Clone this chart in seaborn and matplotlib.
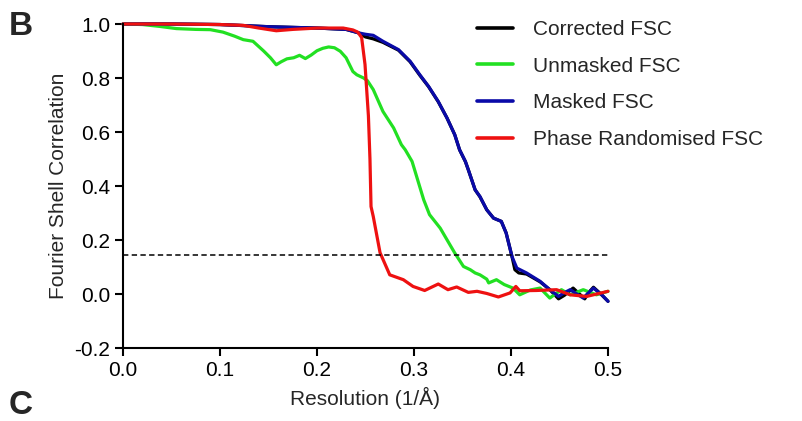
import numpy as np
import pandas as pd
import matplotlib
matplotlib.use("Agg")
import matplotlib.pyplot as plt
import seaborn as sns

# ---------------- data ----------------
corrected_x = [0.0, 0.05, 0.1, 0.15, 0.2, 0.23, 0.243, 0.25, 0.258, 0.268, 0.284, 0.296, 0.306,
               0.315, 0.325, 0.334, 0.342, 0.347, 0.353, 0.356, 0.363, 0.368, 0.375, 0.382,
               0.39, 0.395, 0.401, 0.404, 0.408, 0.416, 0.43, 0.44, 0.449, 0.455, 0.464,
               0.47, 0.476, 0.48, 0.485, 0.4935, 0.5]
corrected_y = [1.0, 1.0, 0.998, 0.99, 0.985, 0.98, 0.967, 0.952, 0.945, 0.932, 0.903, 0.86, 0.81,
               0.768, 0.712, 0.652, 0.59, 0.534, 0.49, 0.46, 0.386, 0.36, 0.312, 0.281,
               0.269, 0.226, 0.139, 0.09, 0.078, 0.074, 0.045, 0.016, -0.018, -0.005, 0.022,
               0.002, -0.018, 0.005, 0.025, -0.003, -0.027]

unmasked_x = [0.0, 0.02, 0.038, 0.055, 0.075, 0.09, 0.103, 0.115, 0.124, 0.134, 0.145, 0.152,
              0.158, 0.163, 0.169, 0.176, 0.182, 0.188, 0.194, 0.2, 0.206, 0.212, 0.218, 0.224,
              0.23, 0.237, 0.241, 0.248, 0.252, 0.258, 0.268, 0.279, 0.287, 0.291, 0.298,
              0.304, 0.31, 0.316, 0.327, 0.334, 0.342, 0.351, 0.358, 0.363, 0.368, 0.375,
              0.377, 0.385, 0.393, 0.402, 0.409, 0.42, 0.43, 0.44, 0.452, 0.461, 0.4745,
              0.488, 0.5]
unmasked_y = [1.0, 0.998, 0.991, 0.983, 0.98, 0.979, 0.97, 0.955, 0.942, 0.936, 0.90, 0.875,
              0.849, 0.86, 0.871, 0.875, 0.884, 0.872, 0.885, 0.901, 0.91, 0.915, 0.912, 0.899,
              0.875, 0.824, 0.812, 0.80, 0.79, 0.757, 0.676, 0.615, 0.553, 0.534, 0.491,
              0.42, 0.349, 0.294, 0.244, 0.201, 0.152, 0.102, 0.09, 0.078, 0.071, 0.055,
              0.041, 0.053, 0.035, 0.022, -0.003, 0.015, 0.022, -0.015, 0.016, -0.003, 0.016,
              -0.003, 0.01]

masked_x = [0.0, 0.05, 0.1, 0.15, 0.2, 0.23, 0.243, 0.25, 0.258, 0.268, 0.284, 0.296, 0.306,
            0.315, 0.325, 0.334, 0.342, 0.347, 0.353, 0.356, 0.363, 0.368, 0.375, 0.382,
            0.39, 0.395, 0.401, 0.406, 0.416, 0.43, 0.44, 0.449, 0.455, 0.461, 0.468,
            0.4745, 0.48, 0.485, 0.4935, 0.5]
masked_y = [1.0, 1.0, 0.998, 0.99, 0.985, 0.98, 0.967, 0.962, 0.958, 0.936, 0.905, 0.862, 0.812,
            0.769, 0.713, 0.652, 0.59, 0.534, 0.491, 0.46, 0.386, 0.361, 0.312, 0.281,
            0.269, 0.226, 0.139, 0.096, 0.078, 0.047, 0.016, -0.009, 0.005, 0.016, 0.0,
            -0.015, 0.005, 0.022, -0.003, -0.027]

phase_x = [0.0, 0.05, 0.1, 0.124, 0.14, 0.158, 0.175, 0.2, 0.227, 0.237, 0.242, 0.246, 0.2495,
           0.253, 0.2546, 0.2557, 0.258, 0.265, 0.275, 0.289, 0.299, 0.311, 0.318, 0.325,
           0.335, 0.344, 0.356, 0.365, 0.375, 0.387, 0.399, 0.405, 0.409, 0.426, 0.447,
           0.461, 0.478, 0.5]
phase_y = [1.0, 1.0, 0.998, 0.995, 0.985, 0.975, 0.98, 0.985, 0.985, 0.978, 0.97, 0.95, 0.85,
           0.66, 0.50, 0.324, 0.287, 0.153, 0.071, 0.053, 0.028, 0.013, 0.025, 0.037,
           0.016, 0.026, 0.006, 0.01, 0.002, -0.011, 0.004, 0.028, 0.012, 0.013, 0.016,
           -0.003, -0.009, 0.01]

series_names = ["Corrected FSC", "Unmasked FSC", "Masked FSC", "Phase Randomised FSC"]
threshold = 0.143
x_ticks = [0.0, 0.1, 0.2, 0.3, 0.4, 0.5]
y_ticks = [-0.2, 0.0, 0.2, 0.4, 0.6, 0.8, 1.0]

frames = []
for name, xs, ys in zip(series_names,
                        [corrected_x, unmasked_x, masked_x, phase_x],
                        [corrected_y, unmasked_y, masked_y, phase_y]):
    frames.append(pd.DataFrame({"Resolution": xs, "FSC": ys, "Curve": name}))
df = pd.concat(frames, ignore_index=True)

palette = {"Corrected FSC": "#000000", "Unmasked FSC": "#22e022",
           "Masked FSC": "#0a0aa8", "Phase Randomised FSC": "#ee1111"}

# ---------------- plot ----------------
sns.set_style("white")
plt.rcParams["font.family"] = ["Liberation Sans", "DejaVu Sans"]
FS = 15

fig = plt.figure(figsize=(8.03, 4.21), dpi=100)
ax = fig.add_axes([123 / 803, 73 / 421, 485 / 803, 324 / 421])

sns.lineplot(data=df, x="Resolution", y="FSC", hue="Curve", hue_order=series_names,
             palette=palette, estimator=None, sort=False, linewidth=2.3, ax=ax,
             legend=True)
for ln in ax.get_lines():
    ln.set_clip_on(False)

ax.axhline(threshold, xmin=0, xmax=1, color="black", linestyle=(0, (3.5, 2.2)),
           linewidth=1.1)

ax.set_xlim(0, 0.5)
ax.set_ylim(-0.2, 1.0)
ax.set_xticks(x_ticks)
ax.set_yticks(y_ticks)
ax.set_xticklabels([f"{v:.1f}" for v in x_ticks])
ax.set_yticklabels([f"{v:.1f}" for v in y_ticks])
ax.tick_params(axis="both", which="major", direction="out", length=6, width=1.5,
               labelsize=FS, color="black", labelcolor="black", pad=3, left=True,
               bottom=True)
for side in ["top", "right"]:
    ax.spines[side].set_visible(False)
for side in ["left", "bottom"]:
    ax.spines[side].set_linewidth(1.5)
    ax.spines[side].set_color("black")

ax.set_xlabel("Resolution (1/Å)", fontsize=FS, labelpad=5)
ax.set_ylabel("Fourier Shell Correlation", fontsize=FS, labelpad=5)

handles, labels = ax.get_legend_handles_labels()
for h in handles:
    h.set_linewidth(2.6)
ax.legend(handles, labels, loc="upper left", bbox_to_anchor=(477 / 803, 1 - 20 / 421),
          bbox_transform=fig.transFigure, frameon=False, fontsize=FS,
          handlelength=1.73, handletextpad=0.96, labelspacing=0.85, borderpad=0,
          borderaxespad=0)

fig.text(9 / 803, 1 - 35 / 421, "B", fontsize=24, fontweight="bold")
fig.text(9 / 803, 1 - 414 / 421, "C", fontsize=24, fontweight="bold")

fig.savefig("out.png", dpi=100, facecolor="white")
